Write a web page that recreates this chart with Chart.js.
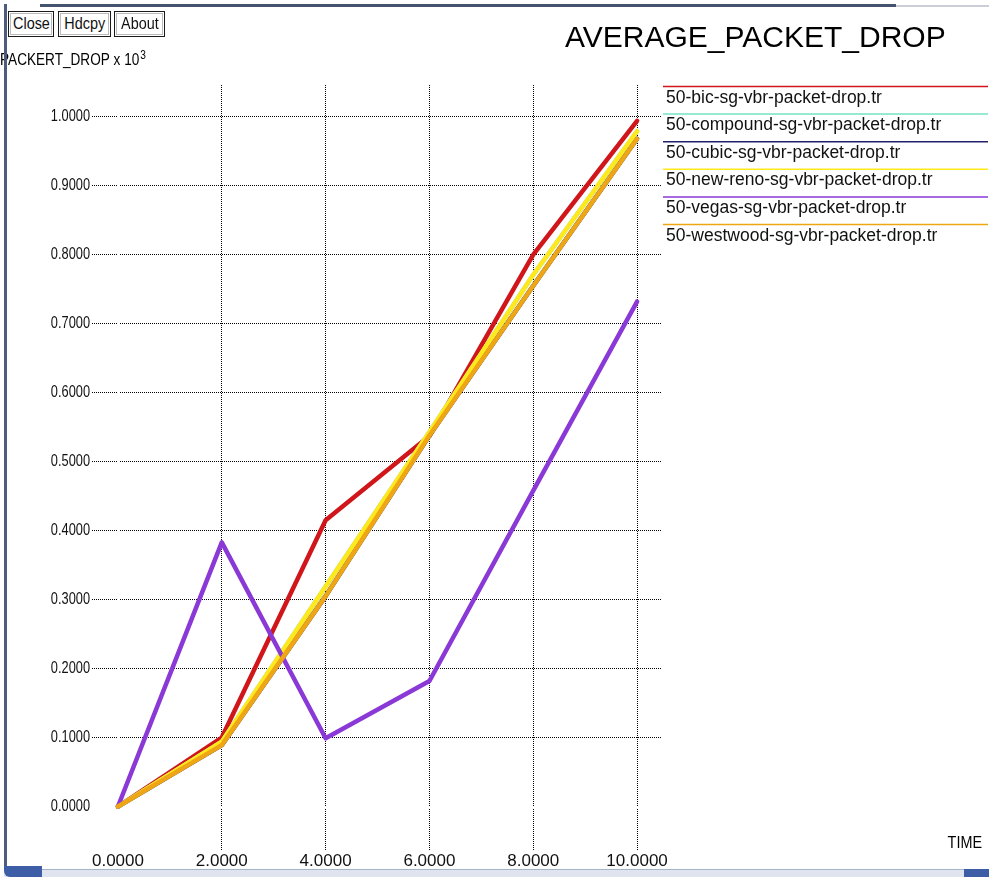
<!DOCTYPE html>
<html>
<head>
<meta charset="utf-8">
<title>AVERAGE_PACKET_DROP</title>
<script src="https://cdn.jsdelivr.net/npm/chart.js@4/dist/chart.umd.min.js"></script>
<style>
  html, body { margin: 0; padding: 0; background: #ffffff; }
  body { width: 989px; height: 878px; position: relative; overflow: hidden; font-family: "Liberation Sans", Arial, sans-serif; }
  #plot { position: absolute; left: 0; top: 0; }
  .btn {
    position: absolute; top: 11px; height: 26px; box-sizing: border-box;
    border: 1px solid #1a1a1a; background: #fff; color: #111;
    font: 16px "Liberation Sans", Arial, sans-serif; line-height: 23px;
    text-align: center; padding: 0; outline: 1px solid #bbb; outline-offset: -3px;
  }
  .btn span { display: inline-block; transform: scaleX(0.9); }
  .frame-left { position: absolute; left: 4px; top: 4px; width: 3px; height: 868px; background: #4d5b7c; }
  .frame-top { position: absolute; left: 40px; top: 4px; width: 856px; height: 3px; background: #46536f; }
  .frame-top-r { position: absolute; left: 896px; top: 5px; width: 93px; height: 2px; background: #c9ced8; }
  .frame-bottom { position: absolute; left: 4px; top: 869px; width: 985px; height: 7px; background: #dfe4ee; border-top: 1px solid #a8b3c8; }
  .frame-bottom-l { position: absolute; left: 4px; top: 866px; width: 38px; height: 11px; background: #3d5da6; border-bottom-left-radius: 6px; }
  .frame-bottom-r { position: absolute; left: 964px; top: 869px; width: 25px; height: 8px; background: #3d5da6; }
</style>
</head>
<body>
<canvas id="plot" width="989" height="878"></canvas>
<div class="frame-left"></div>
<div class="frame-top"></div>
<div class="frame-top-r"></div>
<div class="frame-bottom"></div>
<div class="frame-bottom-l"></div>
<div class="frame-bottom-r"></div>
<div class="btn" style="left:8px;width:46px;"><span>Close</span></div>
<div class="btn" style="left:58px;width:53px;"><span>Hdcpy</span></div>
<div class="btn" style="left:114px;width:51px;"><span>About</span></div>
<script>
// Sample times (x axis) and average packet drop per trace file (units of 10^3)
const times = [0, 2, 4, 6, 8, 10];
const bicDrop      = [0, 0.100, 0.415, 0.537, 0.800, 0.994];
const compoundDrop = [0, 0.094, 0.319, 0.543, 0.771, 0.979];
const cubicDrop    = [0, 0.089, 0.305, 0.538, 0.755, 0.968];
const newRenoDrop  = [0, 0.094, 0.319, 0.543, 0.771, 0.979];
const vegasDrop    = [0, 0.383, 0.099, 0.182, 0.458, 0.732];
const westwoodDrop = [0, 0.089, 0.305, 0.538, 0.755, 0.968];

const seriesNames = [
  '50-bic-sg-vbr-packet-drop.tr',
  '50-compound-sg-vbr-packet-drop.tr',
  '50-cubic-sg-vbr-packet-drop.tr',
  '50-new-reno-sg-vbr-packet-drop.tr',
  '50-vegas-sg-vbr-packet-drop.tr',
  '50-westwood-sg-vbr-packet-drop.tr'
];
const seriesValues = [bicDrop, compoundDrop, cubicDrop, newRenoDrop, vegasDrop, westwoodDrop];
const seriesColors = ['#d0161a', '#74e2c4', '#22226e', '#ffe81c', '#8a38d6', '#eea614'];

const xTickValues = [0, 2, 4, 6, 8, 10];
const yTickValues = [0, 0.1, 0.2, 0.3, 0.4, 0.5, 0.6, 0.7, 0.8, 0.9, 1.0];

// Later files are painted over earlier ones
const datasets = seriesNames.map((name, i) => ({
  label: name,
  data: times.map((t, j) => ({ x: t, y: seriesValues[i][j] })),
  order: seriesNames.length - i,
  borderColor: seriesColors[i],
  backgroundColor: seriesColors[i],
  borderWidth: 4.5,
  pointRadius: 0,
  tension: 0,
  fill: false,
  borderJoinStyle: 'round',
  borderCapStyle: 'round'
}));

const FONT = '"Liberation Sans", Arial, sans-serif';

// Condensed text: regular face squeezed horizontally
function narrowText(ctx, text, x, y, sx, align) {
  ctx.save();
  ctx.translate(x, y);
  ctx.scale(sx, 1);
  ctx.textAlign = align;
  ctx.fillText(text, 0, 0);
  ctx.restore();
}

// Zero axes are drawn in the background colour, cutting the dotted grid
const zeroAxes = {
  id: 'zeroAxes',
  beforeDatasetsDraw(chart) {
    const { ctx, chartArea: a, scales: { x, y } } = chart;
    const px = Math.round(x.getPixelForValue(0)) + 0.5;
    const py = Math.round(y.getPixelForValue(0)) + 0.5;
    ctx.save();
    ctx.strokeStyle = '#ffffff';
    ctx.lineWidth = 3;
    ctx.beginPath();
    ctx.moveTo(px, a.top); ctx.lineTo(px, a.bottom);
    ctx.moveTo(a.left, py); ctx.lineTo(a.right, py);
    ctx.stroke();
    ctx.restore();
  }
};

// Title, condensed y tick labels, axis captions and the line-over-label legend
const decorations = {
  id: 'decorations',
  afterDraw(chart) {
    const { ctx, scales: { y } } = chart;
    ctx.save();
    ctx.fillStyle = '#000';
    ctx.textBaseline = 'alphabetic';

    ctx.font = '30px ' + FONT;
    ctx.textAlign = 'left';
    ctx.fillText('AVERAGE_PACKET_DROP', 565, 47);

    // y tick labels
    ctx.font = '16px ' + FONT;
    ctx.fillStyle = '#111';
    ctx.textBaseline = 'middle';
    y.ticks.forEach(t => {
      narrowText(ctx, Number(t.value).toFixed(4), y.right - 2, y.getPixelForValue(t.value), 0.8, 'right');
    });

    ctx.textBaseline = 'alphabetic';
    ctx.fillStyle = '#000';
    ctx.font = '16px ' + FONT;
    const yCap = 'PACKERT_DROP x 10';
    narrowText(ctx, yCap, 0, 65, 0.85, 'left');
    const w = ctx.measureText(yCap).width * 0.85;
    ctx.font = '12px ' + FONT;
    narrowText(ctx, '3', w + 1, 59, 0.85, 'left');

    ctx.font = '16px ' + FONT;
    narrowText(ctx, 'TIME', 982, 848, 0.9, 'right');

    chart.data.datasets.forEach((ds, i) => {
      const ly = 86.5 + i * 27.6;
      ctx.strokeStyle = ds.borderColor;
      ctx.lineWidth = 1.5;
      ctx.beginPath();
      ctx.moveTo(663, ly); ctx.lineTo(988, ly);
      ctx.stroke();
      ctx.font = '17.5px ' + FONT;
      ctx.fillStyle = '#111';
      ctx.textAlign = 'left';
      ctx.fillText(ds.label, 666, ly + 16);
    });
    ctx.restore();
  }
};

new Chart(document.getElementById('plot'), {
  type: 'line',
  data: { datasets },
  options: {
    responsive: false,
    animation: false,
    events: [],
    layout: { padding: { left: 0, top: 85, right: 327, bottom: 0 } },
    plugins: { legend: { display: false }, title: { display: false }, tooltip: { enabled: false } },
    scales: {
      x: {
        type: 'linear',
        min: -0.5,
        max: 10.48,
        afterBuildTicks: s => { s.ticks = xTickValues.map(v => ({ value: v })); },
        afterFit: s => { s.height = 28; },
        ticks: {
          autoSkip: false, maxRotation: 0, padding: 1,
          color: '#111', font: { family: FONT, size: 17 },
          callback: v => Number(v).toFixed(4)
        },
        grid: {
          drawTicks: false, lineWidth: 1,
          color: c => (c.tick && c.tick.value === 0) ? 'rgba(0,0,0,0)' : '#000'
        },
        border: { display: false, dash: [1, 1] }
      },
      y: {
        type: 'linear',
        min: -0.063,
        max: 1.046,
        afterBuildTicks: s => { s.ticks = yTickValues.map(v => ({ value: v })); },
        afterFit: s => { s.width = 92; },
        ticks: { display: false },
        grid: {
          drawTicks: false, lineWidth: 1,
          color: c => (c.tick && c.tick.value === 0) ? 'rgba(0,0,0,0)' : '#000'
        },
        border: { display: false, dash: [1, 1] }
      }
    }
  },
  plugins: [zeroAxes, decorations]
});
</script>
</body>
</html>
